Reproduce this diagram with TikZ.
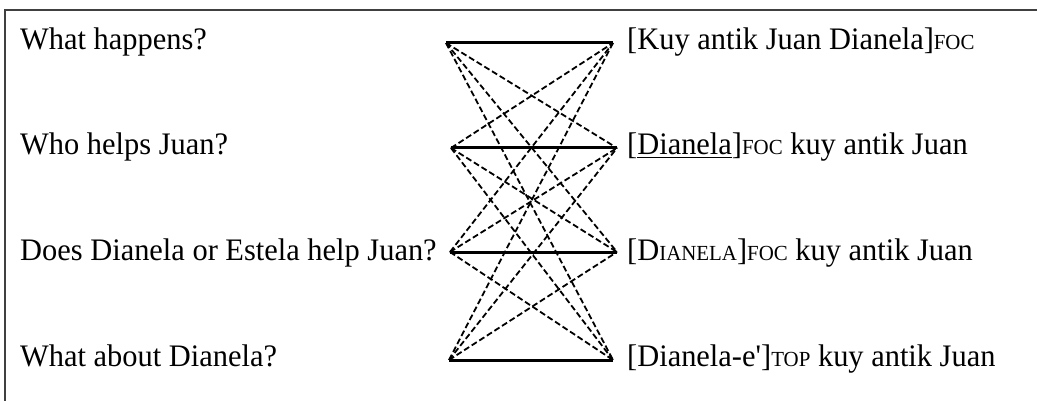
\documentclass[tikz,border=0pt]{standalone}
\usepackage{fontspec}
\setmainfont{Liberation Serif}[FakeStretch=0.972]
\newcommand\smcap[1]{{\fontsize{21.5}{24}\selectfont #1}}
\newcommand\myuline[1]{\setbox0\hbox{#1}\rlap{\rule[-3pt]{\wd0}{1.1pt}}\box0}
\begin{document}
\begin{tikzpicture}[x=1pt,y=-1pt,
  txt/.style={inner sep=0pt, anchor=base west, font=\fontsize{31.3}{36}\selectfont},
  solidlink/.style={line width=3pt},
  dashlink/.style={line width=1.8pt, dash pattern=on 6pt off 3pt},
  frame/.style={line width=1.3pt, black!75}]
\useasboundingbox (0,0) rectangle (1037,401);
\draw[frame] (5,401) -- (5,10) -- (1037,10);
% left questions
\node[txt] (q1) at (20,50) {What happens?};
\node[txt] (q2) at (20,155) {Who helps Juan?};
\node[txt] (q3) at (20,260) {Does Dianela or Estela help Juan?};
\node[txt] (q4) at (20,366) {What about Dianela?};
% right answers
\node[txt] (a1) at (627,50) {[Kuy antik Juan Dianela]\smcap{FOC}};
\node[txt] (a2) at (627,155) {[\myuline{Dianela}]\smcap{FOC} kuy antik Juan};
\node[txt] (a3) at (627,260) {[D\smcap{IANELA}]\smcap{FOC} kuy antik Juan};
\node[txt] (a4) at (627,366) {[Dianela-e\textquotesingle]\smcap{TOP} kuy antik Juan};
% endpoints
\coordinate (L1) at (446,43);
\coordinate (L2) at (451,148);
\coordinate (L3) at (450,252);
\coordinate (L4) at (449,360);
\coordinate (R1) at (613,43);
\coordinate (R2) at (617,148);
\coordinate (R3) at (617,252);
\coordinate (R4) at (613,360);
\foreach \i in {1,...,4}{\draw[solidlink] (L\i) -- (R\i);}
\foreach \i in {1,...,4}{
  \foreach \j in {1,...,4}{
    \ifnum\i=\j\else\draw[dashlink] (L\i) -- (R\j);\fi
  }
}
\end{tikzpicture}
\end{document}
